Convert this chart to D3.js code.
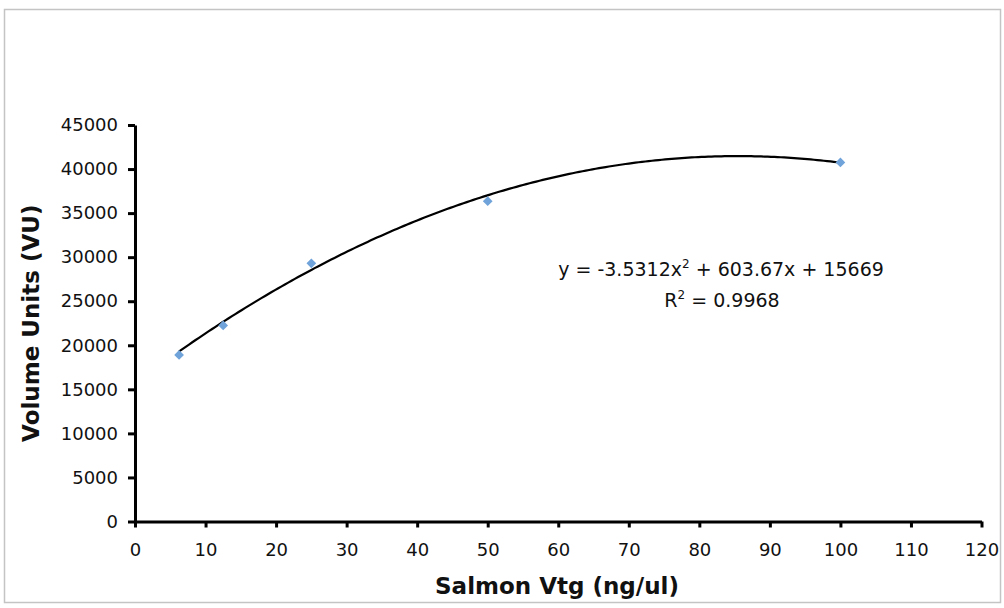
<!DOCTYPE html>
<html>
<head>
<meta charset="utf-8">
<script src="https://cdn.jsdelivr.net/npm/d3@7/dist/d3.min.js"></script>
<style>
  html, body { margin: 0; padding: 0; background: #ffffff; }
  svg { display: block; }
  text { font-family: "DejaVu Sans", Verdana, sans-serif; fill: #111; }
</style>
</head>
<body>
<svg id="chart" width="1004" height="608"></svg>
<script>
// Standard curve: Salmon vitellogenin concentration vs. measured volume units
const concentrations = [6.25, 12.5, 25, 50, 100];
const volumeUnits = [18900, 22250, 29300, 36350, 40750];

// Second-order polynomial trendline and its fit
const trendCoefficients = { a: -3.5312, b: 603.67, c: 15669 };
const rSquared = 0.9968;

const xTicks = [0, 10, 20, 30, 40, 50, 60, 70, 80, 90, 100, 110, 120];
const yTicks = [0, 5000, 10000, 15000, 20000, 25000, 30000, 35000, 40000, 45000];

const xLabel = "Salmon Vtg (ng/ul)";
const yLabel = "Volume Units (VU)";

const svg = d3.select("#chart");

// chart frame
svg.append("rect")
  .attr("x", 4.5).attr("y", 9.5)
  .attr("width", 996).attr("height", 593)
  .attr("fill", "#ffffff")
  .attr("stroke", "#c4c4c4")
  .attr("stroke-width", 1.5);

const plot = { left: 135, right: 981.5, top: 125, bottom: 521.5 };

const x = d3.scaleLinear().domain([0, 120]).range([plot.left, plot.right]);
const y = d3.scaleLinear().domain([0, 45000]).range([plot.bottom, plot.top]);

// x axis
const xAxis = svg.append("g")
  .attr("transform", `translate(0,${plot.bottom})`)
  .call(d3.axisBottom(x).tickValues(xTicks).tickFormat(d3.format("d"))
    .tickSize(6).tickPadding(16).tickSizeOuter(0));
xAxis.select(".domain").attr("stroke", "#000").attr("stroke-width", 3);
xAxis.selectAll(".tick line").attr("stroke", "#000").attr("stroke-width", 3);
xAxis.selectAll(".tick text")
  .style("font-family", '"DejaVu Sans", Verdana, sans-serif')
  .style("font-size", "18px").attr("fill", "#111");

// y axis
const yAxis = svg.append("g")
  .attr("transform", `translate(${plot.left},0)`)
  .call(d3.axisLeft(y).tickValues(yTicks).tickFormat(d3.format("d"))
    .tickSize(7).tickPadding(10).tickSizeOuter(0));
yAxis.select(".domain").attr("stroke", "#000").attr("stroke-width", 3);
yAxis.selectAll(".tick line").attr("stroke", "#000").attr("stroke-width", 3);
yAxis.selectAll(".tick text")
  .style("font-family", '"DejaVu Sans", Verdana, sans-serif')
  .style("font-size", "18px").attr("fill", "#111");

// axis titles
svg.append("text")
  .attr("x", 557)
  .attr("y", 594)
  .attr("text-anchor", "middle")
  .style("font-size", "23px").style("font-weight", "bold")
  .text(xLabel);

svg.append("text")
  .attr("transform", `translate(39,${(plot.top + plot.bottom) / 2}) rotate(-90)`)
  .attr("text-anchor", "middle")
  .style("font-size", "23px").style("font-weight", "bold")
  .text(yLabel);

// trendline evaluated from the fitted coefficients across the sampled range
const trend = v => trendCoefficients.a * v * v + trendCoefficients.b * v + trendCoefficients.c;
const xMin = d3.min(concentrations), xMax = d3.max(concentrations);
const curveX = d3.range(0, 201).map(i => xMin + (xMax - xMin) * i / 200);

svg.append("path")
  .datum(curveX)
  .attr("fill", "none")
  .attr("stroke", "#000")
  .attr("stroke-width", 2.2)
  .attr("d", d3.line().x(d => x(d)).y(d => y(trend(d))));

// data markers (diamonds)
svg.append("g")
  .selectAll("path")
  .data(concentrations.map((c, i) => [c, volumeUnits[i]]))
  .join("path")
  .attr("transform", d => `translate(${x(d[0])},${y(d[1])})`)
  .attr("d", d3.symbol(d3.symbolDiamond2, 60))
  .attr("fill", "#6fa3d9");

// regression equation
const eq = svg.append("text")
  .attr("x", 721).attr("y", 276)
  .attr("text-anchor", "middle")
  .style("font-size", "19px");
eq.append("tspan").text(`y = ${trendCoefficients.a}x`);
eq.append("tspan").attr("dy", -8).style("font-size", "12px").text("2");
eq.append("tspan").attr("dy", 8)
  .text(` + ${trendCoefficients.b}x + ${trendCoefficients.c}`);

const r2 = svg.append("text")
  .attr("x", 722).attr("y", 307)
  .attr("text-anchor", "middle")
  .style("font-size", "19px");
r2.append("tspan").text("R");
r2.append("tspan").attr("dy", -8).style("font-size", "12px").text("2");
r2.append("tspan").attr("dy", 8).text(` = ${rSquared}`);
</script>
</body>
</html>
